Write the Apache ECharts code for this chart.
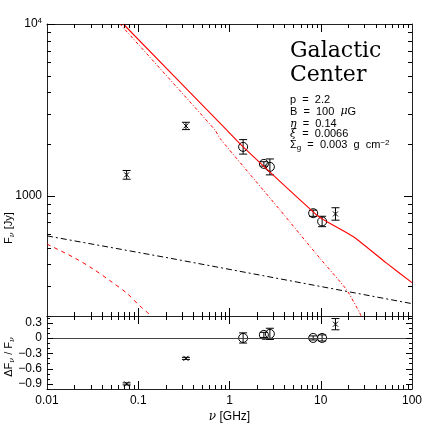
<!DOCTYPE html>
<html>
<head>
<meta charset="utf-8">
<script src="https://cdn.jsdelivr.net/npm/echarts@6/dist/echarts.min.js"></script>
<style>
  html, body { margin: 0; padding: 0; background: #fff; }
  #chart { width: 436px; height: 436px; }
</style>
</head>
<body>
<div id="chart"></div>
<script>
// measured flux densities (GHz, Jy) and error ranges
const obsFreq = [0.0746, 0.333, 1.41, 2.38, 2.77, 8.26, 10.35, 14.5]
const obsFlux = [1325, 2553, 1928, 1535, 1475, 793, 710, 785]
const obsLow = [1250, 2430, 1750, 1490, 1325, 760, 662, 722]
const obsHigh = [1405, 2680, 2125, 1580, 1640, 826, 761, 853]
const obsCircle = [0, 0, 1, 1, 1, 1, 1, 0] // 1 = circle, 0 = cross
// residuals dF/F
const resid = [-0.90, -0.40, 0.0, 0.06, 0.08, 0.0, 0.0, 0.27]
const residErr = [0.02, 0.02, 0.10, 0.05, 0.11, 0.04, 0.06, 0.11]

// model curves
const totalFreq = [0.0685, 0.929, 1.41, 8.99, 11.6, 22.6, 52.6, 100]
const totalFlux = [10000, 2421, 1928, 776, 710, 580, 406, 313]
const synchFreq = [0.063, 0.692, 0.785, 3.56, 9.77, 19.2, 26.8, 27.6]
const synchFlux = [10000, 2421, 2163, 830, 434, 284, 208, 200]
const freeFreq = [0.01, 0.222, 100]
const freeFlux = [585, 434, 236]
const lowFreq = [0.01, 0.0203, 0.0321, 0.049, 0.0746, 0.104, 0.14]
const lowFlux = [524, 434, 375, 321, 272, 229, 200]

// tick marks and labels
const xMajor = [0.01, 0.1, 1, 10, 100]
const xLabels = ['0.01', '0.1', '1', '10', '100']
const fMajor = [1000, 10000]
const rMajor = [-0.9, -0.6, -0.3, 0, 0.3]
const rLabels = ['\u22120.9', '\u22120.6', '\u22120.3', '0', '0.3']

const xMin = 0.01
const xMax = 100
const fMin = 200
const fMax = 10000
const rMin = -1
const rMax = 0.43

const xMinor = []
for (const d of [0.01, 0.1, 1, 10]) {
  for (let m = 2; m < 10; m++) xMinor.push(+(m * d).toPrecision(3))
}
const fMinor = []
for (let m = 2; m < 10; m++) fMinor.push(m * 100)
for (let m = 2; m < 10; m++) fMinor.push(m * 1000)
const rMinor = [-1, -0.8, -0.7, -0.5, -0.4, -0.2, -0.1, 0.1, 0.2, 0.4]

const chart = echarts.init(document.getElementById('chart'))

const ink = '#222'
const labelFont = { fontFamily: 'Liberation Sans', fontSize: 12, color: '#000' }

function axis (kind, grid, pos, label) {
  const ax = {
    type: kind === 'r' ? 'value' : 'log',
    gridIndex: grid,
    position: pos,
    min: kind === 'x' ? xMin : kind === 'f' ? fMin : rMin,
    max: kind === 'x' ? xMax : kind === 'f' ? fMax : rMax,
    axisLine: { show: true, onZero: false, lineStyle: { color: ink, width: 1 } },
    axisTick: { show: false },
    axisLabel: { show: false },
    splitLine: { show: false }
  }
  if (label) ax.axisLabel = label
  return ax
}

function pointRender (params, api) {
  const p = api.coord([api.value(0), api.value(1)])
  const lo = api.coord([api.value(0), api.value(2)])
  const hi = api.coord([api.value(0), api.value(3)])
  const st = { stroke: '#000', lineWidth: 1, fill: null }
  const children = [
    { type: 'line', shape: { x1: p[0], y1: lo[1], x2: p[0], y2: hi[1] }, style: st },
    { type: 'line', shape: { x1: p[0] - 4, y1: lo[1], x2: p[0] + 4, y2: lo[1] }, style: st },
    { type: 'line', shape: { x1: p[0] - 4, y1: hi[1], x2: p[0] + 4, y2: hi[1] }, style: st }
  ]
  if (api.value(4) === 1) {
    children.push({ type: 'circle', shape: { cx: p[0], cy: p[1], r: 4.5 }, style: st })
  } else {
    children.push({ type: 'line', shape: { x1: p[0] - 2.5, y1: p[1] - 2.5, x2: p[0] + 2.5, y2: p[1] + 2.5 }, style: st })
    children.push({ type: 'line', shape: { x1: p[0] - 2.5, y1: p[1] + 2.5, x2: p[0] + 2.5, y2: p[1] - 2.5 }, style: st })
  }
  return { type: 'group', children }
}

const xAxisLabel = Object.assign({
  show: true,
  margin: 6,
  customValues: xMajor,
  formatter: v => xLabels[xMajor.findIndex(t => Math.abs(Math.log10(t) - Math.log10(v)) < 1e-6)] || ''
}, labelFont)

const fAxisLabel = Object.assign({
  show: true,
  margin: 5,
  customValues: fMajor,
  formatter: v => (Math.abs(Math.log10(v) - 4) < 1e-6 ? '{b|10}{s|4}' : '1000'),
  rich: {
    b: { fontFamily: 'Liberation Sans', fontSize: 12 },
    s: { fontFamily: 'Liberation Sans', fontSize: 8, verticalAlign: 'top', padding: [0, 0, 6, 0] }
  }
}, labelFont)

const rAxisLabel = Object.assign({
  show: true,
  margin: 5,
  customValues: rMajor,
  formatter: v => rLabels[rMajor.findIndex(t => Math.abs(t - v) < 1e-6)] || ''
}, labelFont)

const bottomX = axis('x', 1, 'bottom', xAxisLabel)
bottomX.name = '{i|ν} [GHz]'
bottomX.nameLocation = 'middle'
bottomX.nameGap = 22
bottomX.nameTextStyle = Object.assign({ rich: { i: { fontFamily: 'DejaVu Serif', fontStyle: 'italic', fontSize: 12 } } }, labelFont)

const subRich = { s: { fontSize: 8, fontFamily: 'DejaVu Serif', fontStyle: 'italic', verticalAlign: 'bottom', padding: [6, 0, 0, 0] } }
const greek = { i: { fontFamily: 'DejaVu Serif', fontStyle: 'italic', fontSize: 11 } }
const smallText = { font: '11px "Liberation Sans"', fill: '#000', verticalAlign: 'middle' }

const option = {
  animation: false,
  backgroundColor: '#fff',
  grid: [
    { left: 47, top: 24, width: 365, height: 292 },
    { left: 47, top: 316, width: 365, height: 73 }
  ],
  xAxis: [
    axis('x', 0, 'bottom'),
    axis('x', 0, 'top'),
    bottomX,
    axis('x', 1, 'top')
  ],
  yAxis: [
    axis('f', 0, 'left', fAxisLabel),
    axis('f', 0, 'right'),
    axis('r', 1, 'left', rAxisLabel),
    axis('r', 1, 'right')
  ],
  graphic: [
    {
      type: 'text', x: 9, y: 228, rotation: Math.PI / 2,
      style: Object.assign({ text: 'F{s|ν} [Jy]', align: 'center', rich: subRich }, smallText)
    },
    {
      type: 'text', x: 9, y: 357, rotation: Math.PI / 2,
      style: Object.assign({ text: '\u0394F{s|ν} / F{s|ν}', align: 'center', rich: subRich }, smallText)
    },
    { type: 'text', x: 290, y: 51, style: { text: 'Galactic', font: '22px "DejaVu Serif"', fill: '#000', verticalAlign: 'middle' } },
    { type: 'text', x: 290, y: 75, style: { text: 'Center', font: '22px "DejaVu Serif"', fill: '#000', verticalAlign: 'middle' } },
    { type: 'text', x: 290, y: 100, style: Object.assign({ text: 'p  =  2.2' }, smallText) },
    { type: 'text', x: 290, y: 111.5, style: Object.assign({ text: 'B  =  100  {i|μ}G', rich: greek }, smallText) },
    { type: 'text', x: 290, y: 124, style: Object.assign({ text: '{i|η}  =  0.14', rich: greek }, smallText) },
    { type: 'text', x: 290, y: 134, style: Object.assign({ text: '{i|ξ}  =  0.0066', rich: greek }, smallText) },
    {
      type: 'text', x: 290, y: 145,
      style: Object.assign({
        text: '\u03a3{sub|g}  =  0.003  g  cm{sup|\u22122}',
        rich: {
          sub: { fontSize: 8, verticalAlign: 'bottom', padding: [5, 0, 0, 0] },
          sup: { fontSize: 8, verticalAlign: 'top', padding: [0, 0, 5, 0] }
        }
      }, smallText)
    }
  ],
  series: [
    {
      type: 'line', xAxisIndex: 0, yAxisIndex: 0, showSymbol: false, smooth: 0.2,
      itemStyle: { color: '#ff0000' },
      lineStyle: { color: '#ff0000', width: 1.1 },
      data: totalFreq.map((f, i) => [f, totalFlux[i]])
    },
    {
      type: 'line', xAxisIndex: 0, yAxisIndex: 0, showSymbol: false, smooth: 0.2,
      itemStyle: { color: '#ff0000' },
      lineStyle: { color: '#ff0000', width: 1, type: [3, 2, 1, 2] },
      data: synchFreq.map((f, i) => [f, synchFlux[i]])
    },
    {
      type: 'line', xAxisIndex: 0, yAxisIndex: 0, showSymbol: false,
      itemStyle: { color: '#000' },
      lineStyle: { color: '#000', width: 1, type: [6, 3, 2, 3] },
      data: freeFreq.map((f, i) => [f, freeFlux[i]])
    },
    {
      type: 'line', xAxisIndex: 0, yAxisIndex: 0, showSymbol: false, smooth: 0.3,
      itemStyle: { color: '#ff0000' },
      lineStyle: { color: '#ff0000', width: 1, type: [4, 4] },
      data: lowFreq.map((f, i) => [f, lowFlux[i]])
    },
    {
      type: 'custom', xAxisIndex: 0, yAxisIndex: 0, renderItem: pointRender,
      data: obsFreq.map((f, i) => [f, obsFlux[i], obsLow[i], obsHigh[i], obsCircle[i]])
    },
    {
      type: 'custom', xAxisIndex: 2, yAxisIndex: 2, renderItem: pointRender,
      data: obsFreq.map((f, i) => [f, resid[i], resid[i] - residErr[i], resid[i] + residErr[i], obsCircle[i]]),
      markLine: {
        silent: true, symbol: 'none', label: { show: false },
        lineStyle: { color: '#444', width: 1, type: 'solid' },
        data: [{ yAxis: 0 }]
      }
    }
  ]
}

chart.setOption(option)

// tick marks, placed through the axes' own scales (snapped to whole pixels)
const zr = chart.getZr()
const snap = v => Math.round(v) + 0.5
const tick = (x1, y1, x2, y2) => {
  zr.add(new echarts.graphic.Line({
    silent: true,
    z: 100,
    shape: { x1, y1, x2, y2 },
    style: { stroke: '#000', lineWidth: 1 }
  }))
}
const panels = [
  { xi: 0, yi: 0, yLo: fMin, yHi: fMax, yMajor: fMajor, yMinor: fMinor, yLen: [8, 4] },
  { xi: 2, yi: 2, yLo: rMin, yHi: rMax, yMajor: rMajor, yMinor: rMinor, yLen: [6, 3] }
]
panels.forEach(pn => {
  const top = chart.convertToPixel({ yAxisIndex: pn.yi }, pn.yHi)
  const bot = chart.convertToPixel({ yAxisIndex: pn.yi }, pn.yLo)
  const left = chart.convertToPixel({ xAxisIndex: pn.xi }, xMin)
  const right = chart.convertToPixel({ xAxisIndex: pn.xi }, xMax)
  const xt = xMajor.slice(1, -1).map(v => [v, 8]).concat(xMinor.map(v => [v, 4]))
  xt.forEach(([v, len]) => {
    const x = snap(chart.convertToPixel({ xAxisIndex: pn.xi }, v))
    tick(x, bot, x, bot - len)
    tick(x, top, x, top + len)
  })
  const yt = pn.yMajor.map(v => [v, pn.yLen[0]]).concat(pn.yMinor.map(v => [v, pn.yLen[1]]))
  yt.forEach(([v, len]) => {
    const y = snap(chart.convertToPixel({ yAxisIndex: pn.yi }, v))
    tick(left, y, left + len, y)
    tick(right, y, right - len, y)
  })
})
</script>
</body>
</html>
